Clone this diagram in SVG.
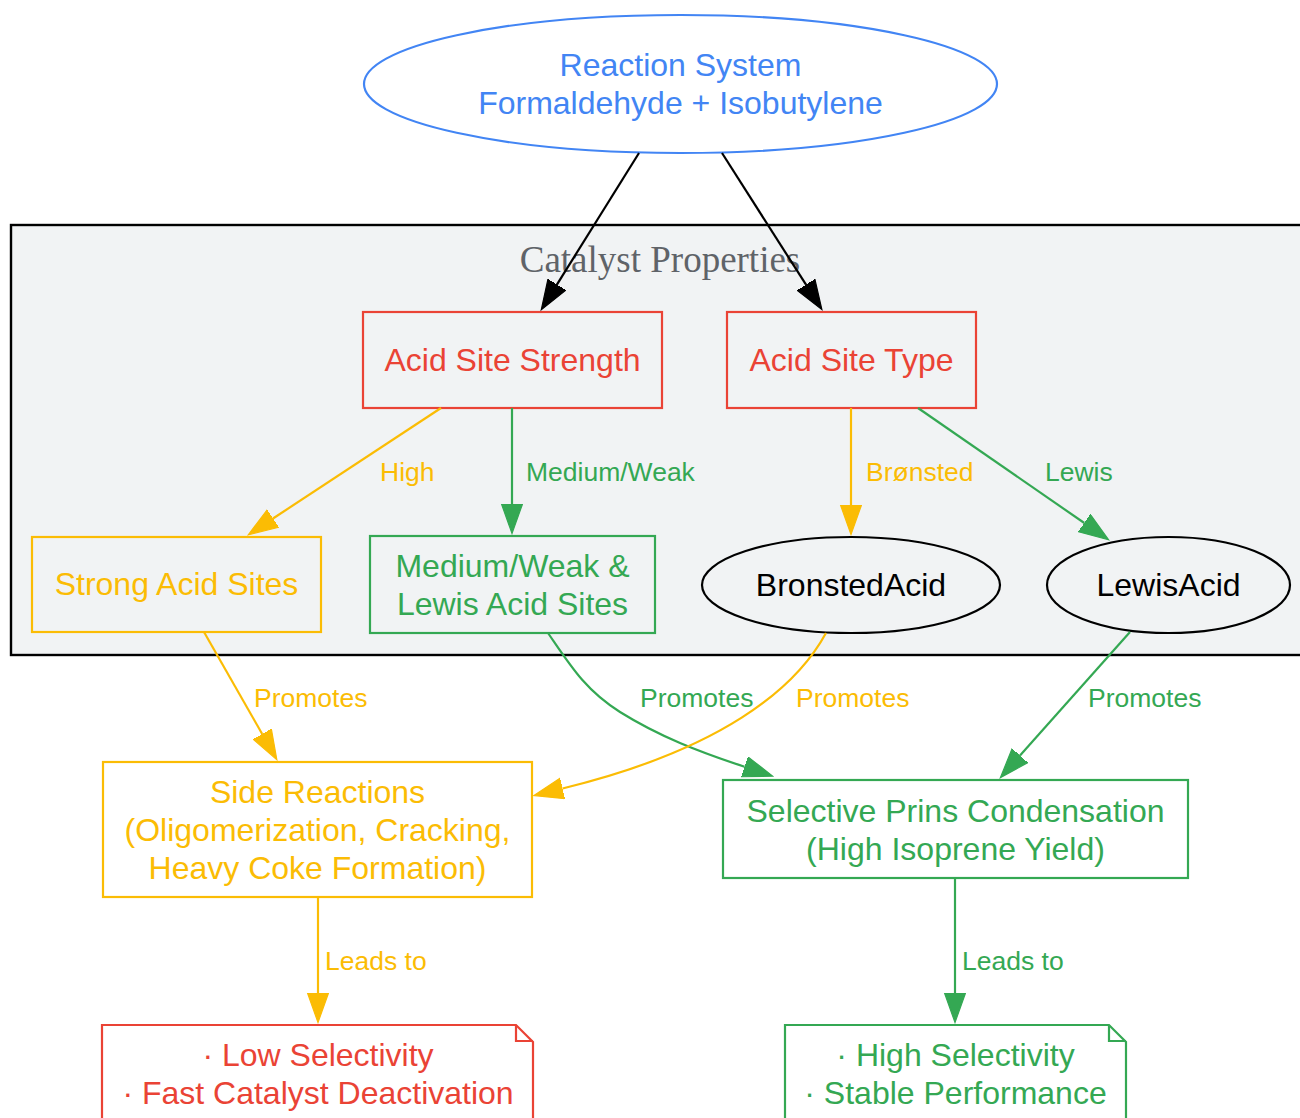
<svg xmlns="http://www.w3.org/2000/svg" width="1300" height="1118" viewBox="0 0 1300 1118">
<style>
  .n { font-family: "Liberation Sans", Arial, sans-serif; font-size: 32px; text-anchor: middle; }
  .el { font-family: "Liberation Sans", Arial, sans-serif; font-size: 26.5px; text-anchor: start; }
  .blue { fill: #4285f4; } .red { fill: #ea4335; } .yel { fill: #fbbc04; } .grn { fill: #34a853; } .blk { fill: #000; }
  .sred { fill: none; stroke: #ea4335; stroke-width: 2.2; }
  .syel { fill: none; stroke: #fbbc04; stroke-width: 2.2; }
  .sgrn { fill: none; stroke: #34a853; stroke-width: 2.2; }
  .sblk { fill: none; stroke: #000; stroke-width: 2.2; }
  .eb { fill: none; stroke: #000; stroke-width: 2.2; marker-end: url(#ab); }
  .ey { fill: none; stroke: #fbbc04; stroke-width: 2.2; marker-end: url(#ay); }
  .eg { fill: none; stroke: #34a853; stroke-width: 2.2; marker-end: url(#ag); }
</style>
<defs>
  <marker id="ab" markerUnits="userSpaceOnUse" markerWidth="32" markerHeight="24" refX="0" refY="11" orient="auto"><path d="M0,0.5 L29.5,11 L0,21.5 z" fill="#000" stroke="#000" stroke-width="1.2"/></marker>
  <marker id="ay" markerUnits="userSpaceOnUse" markerWidth="32" markerHeight="24" refX="0" refY="11" orient="auto"><path d="M0,0.5 L29.5,11 L0,21.5 z" fill="#fbbc04" stroke="#fbbc04" stroke-width="1.2"/></marker>
  <marker id="ag" markerUnits="userSpaceOnUse" markerWidth="32" markerHeight="24" refX="0" refY="11" orient="auto"><path d="M0,0.5 L29.5,11 L0,21.5 z" fill="#34a853" stroke="#34a853" stroke-width="1.2"/></marker>
</defs>
<rect width="1300" height="1118" fill="#ffffff"/>

<g id="cluster_catalyst">
  <rect x="11" y="225" width="1310" height="430" fill="#f1f3f4" stroke="#000" stroke-width="2.4"/>
  <text x="660" y="272" font-family="'Liberation Serif', 'Times New Roman', serif" font-size="37" fill="#5f6368" text-anchor="middle">Catalyst Properties</text>
</g>

<g id="reaction_system">
  <ellipse cx="680.5" cy="84" rx="316.5" ry="69" fill="none" stroke="#4285f4" stroke-width="2.2"/>
  <text class="n blue" x="680.5" y="76">Reaction System</text>
  <text class="n blue" x="680.5" y="114">Formaldehyde + Isobutylene</text>
</g>

<g id="acid_strength">
  <rect class="sred" x="363" y="312" width="299" height="96"/>
  <text class="n red" x="512.5" y="371">Acid Site Strength</text>
</g>

<g id="acid_type">
  <rect class="sred" x="727" y="312" width="249" height="96"/>
  <text class="n red" x="851.5" y="371">Acid Site Type</text>
</g>

<g id="strong_sites">
  <rect class="syel" x="32" y="537" width="289" height="95"/>
  <text class="n yel" x="176.5" y="595">Strong Acid Sites</text>
</g>

<g id="medium_sites">
  <rect class="sgrn" x="370" y="536" width="285" height="97"/>
  <text class="n grn" x="512.5" y="577">Medium/Weak &amp;</text>
  <text class="n grn" x="512.5" y="615">Lewis Acid Sites</text>
</g>

<g id="bronsted_acid">
  <ellipse class="sblk" cx="851" cy="585" rx="149" ry="48"/>
  <text class="n blk" x="851" y="596">BronstedAcid</text>
</g>

<g id="lewis_acid">
  <ellipse class="sblk" cx="1168.5" cy="585" rx="121.5" ry="48"/>
  <text class="n blk" x="1168.5" y="596">LewisAcid</text>
</g>

<g id="side_reactions">
  <rect class="syel" x="103" y="762" width="429" height="135"/>
  <text class="n yel" x="317.5" y="803">Side Reactions</text>
  <text class="n yel" x="317.5" y="841">(Oligomerization, Cracking,</text>
  <text class="n yel" x="317.5" y="879">Heavy Coke Formation)</text>
</g>

<g id="prins">
  <rect class="sgrn" x="723" y="780" width="465" height="98"/>
  <text class="n grn" x="955.5" y="822">Selective Prins Condensation</text>
  <text class="n grn" x="955.5" y="860">(High Isoprene Yield)</text>
</g>

<g id="low_outcome">
  <path d="M102,1025 L516,1025 L533,1042 L533,1135 L102,1135 Z" fill="#ffffff" stroke="#ea4335" stroke-width="2.2"/>
  <path d="M516,1025 L516,1041 L533,1041" fill="none" stroke="#ea4335" stroke-width="2.2"/>
  <text class="n red" x="318" y="1066">· Low Selectivity</text>
  <text class="n red" x="318" y="1104">· Fast Catalyst Deactivation</text>
</g>

<g id="high_outcome">
  <path d="M785,1025 L1109,1025 L1126,1042 L1126,1135 L785,1135 Z" fill="#ffffff" stroke="#34a853" stroke-width="2.2"/>
  <path d="M1109,1025 L1109,1041 L1126,1041" fill="none" stroke="#34a853" stroke-width="2.2"/>
  <text class="n grn" x="955.5" y="1066">· High Selectivity</text>
  <text class="n grn" x="955.5" y="1104">· Stable Performance</text>
</g>

<g id="connectors">
  <path class="eb" d="M639,153 L556.9,284.6"/>
  <path class="eb" d="M722,153 L806,284.7"/>
  <path class="ey" d="M441,408 L273,518.5"/>
  <path class="eg" d="M512,408 L512,504"/>
  <path class="ey" d="M851,408 L851,505"/>
  <path class="eg" d="M918,408 L1084.3,523"/>
  <path class="ey" d="M204,632 L262.2,734"/>
  <path class="eg" d="M548,633 C570,665 585,690 620,712 C660,737 700,752 744.6,766.8"/>
  <path class="ey" d="M826,633 C795,690 720,750 562.5,788.5"/>
  <path class="eg" d="M1130,632 L1020,755.6"/>
  <path class="ey" d="M318,897 L318,993"/>
  <path class="eg" d="M955,878 L955,993"/>

  <text class="el yel" x="380" y="481">High</text>
  <text class="el grn" x="526" y="481">Medium/Weak</text>
  <text class="el yel" x="866" y="481">Brønsted</text>
  <text class="el grn" x="1045" y="481">Lewis</text>
  <text class="el yel" x="254" y="707">Promotes</text>
  <text class="el grn" x="640" y="707">Promotes</text>
  <text class="el yel" x="796" y="707">Promotes</text>
  <text class="el grn" x="1088" y="707">Promotes</text>
  <text class="el yel" x="325" y="970">Leads to</text>
  <text class="el grn" x="962" y="970">Leads to</text>
</g>
</svg>
